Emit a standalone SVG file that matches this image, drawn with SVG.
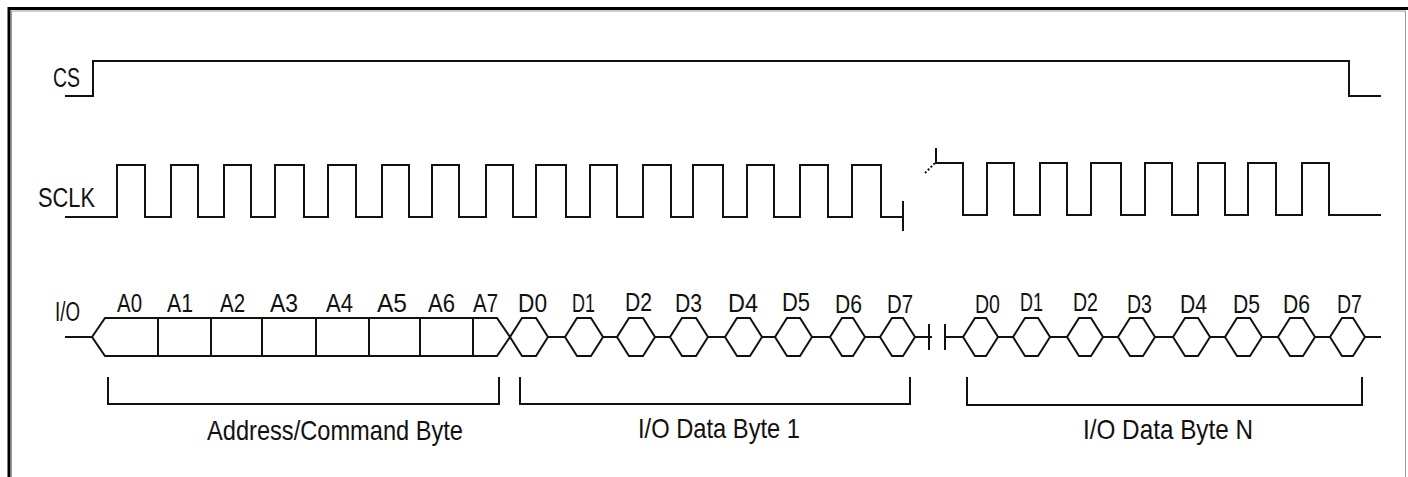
<svg xmlns="http://www.w3.org/2000/svg" width="1408" height="477" viewBox="0 0 1408 477">
<style>
.w{fill:none;stroke:#111;stroke-width:2;stroke-linejoin:miter;stroke-linecap:square}
.t{font-family:"Liberation Sans","Arial",sans-serif;fill:#111}
.lb{font-size:25px}
.sl{font-size:27px}
.bt{font-size:28px}
</style>
<rect width="1408" height="477" fill="#fff"/>
<g id="frame">
<path d="M9 477 V8.5 H1408" fill="none" stroke="#000" stroke-width="3"/>
<path d="M11.5 477 V11 H1405.5 V477" fill="none" stroke="#999" stroke-width="1"/>
</g>
<g id="cs">
<text class="t sl" x="53" y="87" textLength="27" lengthAdjust="spacingAndGlyphs">CS</text>
<path class="w" d="M66 96 H93 V61 H1349 V96 H1380"/>
</g>
<g id="sclk">
<text class="t sl" x="38" y="207" textLength="57" lengthAdjust="spacingAndGlyphs">SCLK</text>
<path class="w" d="M66 217 H117 V165 H145 V217 H171 V165 H198 V217 H224 V165 H251 V217 H275 V165 H304 V217 H328 V165 H356 V217 H382 V165 H409 V217 H432 V165 H459 V217 H486 V165 H513 V217 H536 V165 H566 V217 H590 V165 H617 V217 H643 V165 H671 V217 H693 V165 H723 V217 H747 V165 H774 V217 H800 V165 H828 V217 H852 V165 H881 V217 H903"/>
<path class="w" d="M903 202 V230"/>
<path class="w" d="M936 149 V163 H963 V215 H987 V163 H1014 V215 H1040 V163 H1067 V215 H1091 V163 H1121 V215 H1145 V163 H1172 V215 H1198 V163 H1225 V215 H1248 V163 H1276 V215 H1302 V163 H1329 V215 H1380"/>
<path d="M925 173 L935 163" fill="none" stroke="#111" stroke-width="2" stroke-dasharray="2 2"/>
</g>
<g id="io">
<text class="t sl" x="55" y="321" textLength="25" lengthAdjust="spacingAndGlyphs">I/O</text>
<path class="w" d="M66 337 H92 L105 318 H497 L510 337 L497 356 H105 L92 337"/>
<path class="w" d="M158 318 V356 M211 318 V356 M262 318 V356 M316 318 V356 M369 318 V356 M420 318 V356 M473 318 V356"/>
<g id="addr-labels">
<text class="t lb" x="117" y="312" textLength="25" lengthAdjust="spacingAndGlyphs">A0</text>
<text class="t lb" x="167" y="312" textLength="26" lengthAdjust="spacingAndGlyphs">A1</text>
<text class="t lb" x="220" y="312" textLength="25" lengthAdjust="spacingAndGlyphs">A2</text>
<text class="t lb" x="270" y="312" textLength="28" lengthAdjust="spacingAndGlyphs">A3</text>
<text class="t lb" x="326" y="312" textLength="27" lengthAdjust="spacingAndGlyphs">A4</text>
<text class="t lb" x="377" y="312" textLength="30" lengthAdjust="spacingAndGlyphs">A5</text>
<text class="t lb" x="428" y="312" textLength="27" lengthAdjust="spacingAndGlyphs">A6</text>
<text class="t lb" x="473" y="312" textLength="25" lengthAdjust="spacingAndGlyphs">A7</text>
</g>
<g id="byte1">
<path class="w" d="M510 337 L522 318 H536 L548 337 L536 356 H522 Z M548 337 H565 L577 318 H591 L603 337 L591 356 H577 L565 337 M603 337 H617 L629 318 H643 L655 337 L643 356 H629 L617 337 M655 337 H670 L682 318 H696 L708 337 L696 356 H682 L670 337 M708 337 H725 L737 318 H750 L762 337 L750 356 H737 L725 337 M762 337 H775 L787 318 H800 L812 337 L800 356 H787 L775 337 M812 337 H830 L842 318 H853 L865 337 L853 356 H842 L830 337 M865 337 H880 L892 318 H903 L915 337 L903 356 H892 L880 337 M915 337 H931"/>
<path class="w" d="M929 325 V349"/>
<text class="t lb" x="518" y="312" textLength="29" lengthAdjust="spacingAndGlyphs">D0</text>
<text class="t lb" x="572" y="312" textLength="23" lengthAdjust="spacingAndGlyphs">D1</text>
<text class="t lb" x="625" y="311" textLength="27" lengthAdjust="spacingAndGlyphs">D2</text>
<text class="t lb" x="675" y="312" textLength="27" lengthAdjust="spacingAndGlyphs">D3</text>
<text class="t lb" x="728" y="312" textLength="30" lengthAdjust="spacingAndGlyphs">D4</text>
<text class="t lb" x="782" y="311" textLength="28" lengthAdjust="spacingAndGlyphs">D5</text>
<text class="t lb" x="835" y="313" textLength="27" lengthAdjust="spacingAndGlyphs">D6</text>
<text class="t lb" x="887" y="313" textLength="26" lengthAdjust="spacingAndGlyphs">D7</text>
</g>
<g id="byteN">
<path class="w" d="M945 325 V349"/>
<path class="w" d="M945 337 H963 L975 318 H986 L998 337 L986 356 H975 L963 337 M998 337 H1013 L1025 318 H1038 L1050 337 L1038 356 H1025 L1013 337 M1050 337 H1067 L1079 318 H1091 L1103 337 L1091 356 H1079 L1067 337 M1103 337 H1118 L1130 318 H1143 L1155 337 L1143 356 H1130 L1118 337 M1155 337 H1173 L1185 318 H1198 L1210 337 L1198 356 H1185 L1173 337 M1210 337 H1225 L1237 318 H1250 L1262 337 L1250 356 H1237 L1225 337 M1262 337 H1278 L1290 318 H1303 L1315 337 L1303 356 H1290 L1278 337 M1315 337 H1330 L1342 318 H1353 L1365 337 L1353 356 H1342 L1330 337 M1365 337 H1380"/>
<text class="t lb" x="975" y="313" textLength="25" lengthAdjust="spacingAndGlyphs">D0</text>
<text class="t lb" x="1020" y="311" textLength="23" lengthAdjust="spacingAndGlyphs">D1</text>
<text class="t lb" x="1073" y="311" textLength="25" lengthAdjust="spacingAndGlyphs">D2</text>
<text class="t lb" x="1127" y="313" textLength="25" lengthAdjust="spacingAndGlyphs">D3</text>
<text class="t lb" x="1180" y="313" textLength="27" lengthAdjust="spacingAndGlyphs">D4</text>
<text class="t lb" x="1233" y="313" textLength="27" lengthAdjust="spacingAndGlyphs">D5</text>
<text class="t lb" x="1283" y="313" textLength="27" lengthAdjust="spacingAndGlyphs">D6</text>
<text class="t lb" x="1337" y="313" textLength="25" lengthAdjust="spacingAndGlyphs">D7</text>
</g>
</g>
<g id="brackets">
<path class="w" d="M108 378 V404 H499 V378"/>
<path class="w" d="M520 378 V404 H910 V378"/>
<path class="w" d="M967 378 V405 H1362 V378"/>
<text class="t bt" x="207" y="440" textLength="256" lengthAdjust="spacingAndGlyphs">Address/Command Byte</text>
<text class="t bt" x="638" y="438" textLength="162" lengthAdjust="spacingAndGlyphs">I/O Data Byte 1</text>
<text class="t bt" x="1083" y="439" textLength="170" lengthAdjust="spacingAndGlyphs">I/O Data Byte N</text>
</g>
</svg>
